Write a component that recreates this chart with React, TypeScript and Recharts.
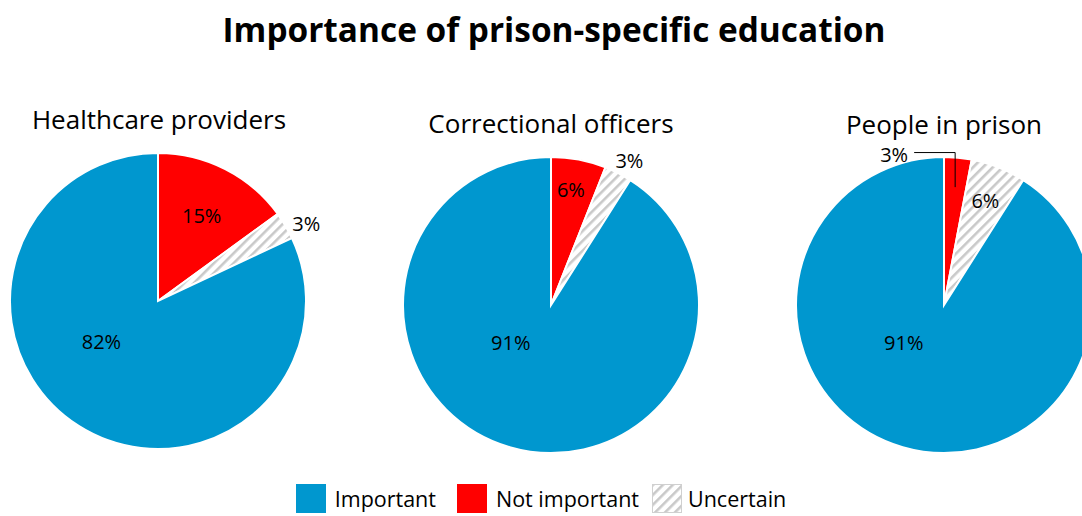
import React from 'react';
import { PieChart, Pie, Cell, Legend } from 'recharts';

const categories = ['Not important', 'Uncertain', 'Important'];
const groups = ['Healthcare providers', 'Correctional officers', 'People in prison'];
const healthcareValues = [15, 3, 82];
const officersValues = [6, 3, 91];
const prisonValues = [3, 6, 91];
const legendOrder = ['Important', 'Not important', 'Uncertain'];

const FONT = '"Open Sans", "Noto Sans", sans-serif';
const BLUE = '#0097cf';
const RED = '#ff0000';
const fills = [RED, 'url(#hatch)', BLUE];
const legendFills: Record<string, string> = {
  Important: BLUE,
  'Not important': RED,
  Uncertain: 'url(#hatch)',
};
const legendGaps: Record<string, number> = { Important: 21, 'Not important': 13, Uncertain: 0 };

const R = 148;
const RADIAN = Math.PI / 180;

// label placement per pie: [radius factor, angle shift in degrees]
const placements: [number, number][][] = [
  [[0.65, 0], [1.13, -3], [0.47, -22]],
  [[0.79, 1], [1.11, -1.5], [0.37, -31]],
  [[0, 0], [0.76, 0], [0.37, -31]],
];

// chart margin is 5px, so centres are given relative to it
const pies = [
  { name: groups[0], values: healthcareValues, cx: 153, cy: 296, tx: 159, titleY: 129 },
  { name: groups[1], values: officersValues, cx: 546, cy: 300, tx: 551, titleY: 133 },
  { name: groups[2], values: prisonValues, cx: 939, cy: 300, tx: 944, titleY: 134 },
];

function polar(cx: number, cy: number, r: number, angle: number) {
  return { x: cx + Math.cos(-angle * RADIAN) * r, y: cy + Math.sin(-angle * RADIAN) * r };
}

function makeLabel(pieIdx: number) {
  return (props: any) => {
    const { cx, cy, midAngle, index, value } = props;
    // small slice on the last pie gets a leader line
    if (pieIdx === 2 && index === 0) {
      const a = polar(cx, cy, 0.8 * R, midAngle);
      const elbowY = cy - 1.03 * R;
      const textX = a.x - 41;
      return (
        <g>
          <polyline
            points={`${textX},${elbowY} ${a.x},${elbowY} ${a.x},${a.y}`}
            fill="none"
            stroke="#000"
            strokeWidth={1}
          />
          <text x={textX - 6} y={elbowY + 2} textAnchor="end" dominantBaseline="central" fontSize={20} fontFamily={FONT} fill="#000">
            {value}%
          </text>
        </g>
      );
    }
    const [f, shift] = placements[pieIdx][index];
    const p = polar(cx, cy, f * R, midAngle + shift);
    return (
      <text x={p.x} y={p.y} textAnchor="middle" dominantBaseline="central" fontSize={20} fontFamily={FONT} fill="#000">
        {value}%
      </text>
    );
  };
}

function renderLegend() {
  return (
    <div style={{ display: 'flex', justifyContent: 'center', alignItems: 'center', fontFamily: FONT, fontSize: 21.5, color: '#000' }}>
      {legendOrder.map(name => (
        <div key={name} style={{ display: 'flex', alignItems: 'center', marginRight: legendGaps[name] }}>
          <svg width={30} height={29} style={{ marginRight: name === 'Uncertain' ? 6 : 9 }}>
            <rect x={0.5} y={0.5} width={29} height={28} fill={legendFills[name]} stroke={name === 'Uncertain' ? '#d0d0d0' : legendFills[name]} />
          </svg>
          <span>{name}</span>
        </div>
      ))}
    </div>
  );
}

export default function App() {
  return (
    <div style={{ position: 'relative', width: 1082, height: 516, background: '#fff' }}>
      <style>{'body{margin:0;}'}</style>
      <svg width={0} height={0} style={{ position: 'absolute' }}>
        <defs>
          <pattern id="hatch" width={7} height={7} patternUnits="userSpaceOnUse" patternTransform="rotate(45)">
            <rect width={7} height={7} fill="#ffffff" />
            <rect width={2.6} height={7} fill="#c9c9c9" />
          </pattern>
        </defs>
      </svg>
      <PieChart width={1082} height={516}>
        {pies.map((p, pi) => (
          <Pie
            key={p.name}
            data={p.values.map((v, i) => ({ name: categories[i], value: v }))}
            dataKey="value"
            nameKey="name"
            cx={p.cx}
            cy={p.cy}
            outerRadius={R}
            startAngle={90}
            endAngle={-270}
            stroke="#ffffff"
            strokeWidth={2}
            label={makeLabel(pi)}
            labelLine={false}
            isAnimationActive={false}
          >
            {p.values.map((_, i) => (
              <Cell key={i} fill={fills[i]} />
            ))}
          </Pie>
        ))}
        <Legend content={renderLegend} wrapperStyle={{ position: 'absolute', left: 0, top: 484, width: 1082 }} />
      </PieChart>
      <svg width={1082} height={516} style={{ position: 'absolute', left: 0, top: 0, pointerEvents: 'none' }}>
        <text x={554} y={42} textAnchor="middle" fontFamily={FONT} fontWeight="bold" fontSize={33.4} fill="#000">
          Importance of prison-specific education
        </text>
        {pies.map(p => (
          <text key={p.name} x={p.tx} y={p.titleY} textAnchor="middle" fontFamily={FONT} fontSize={26} fill="#000">
            {p.name}
          </text>
        ))}
      </svg>
    </div>
  );
}
